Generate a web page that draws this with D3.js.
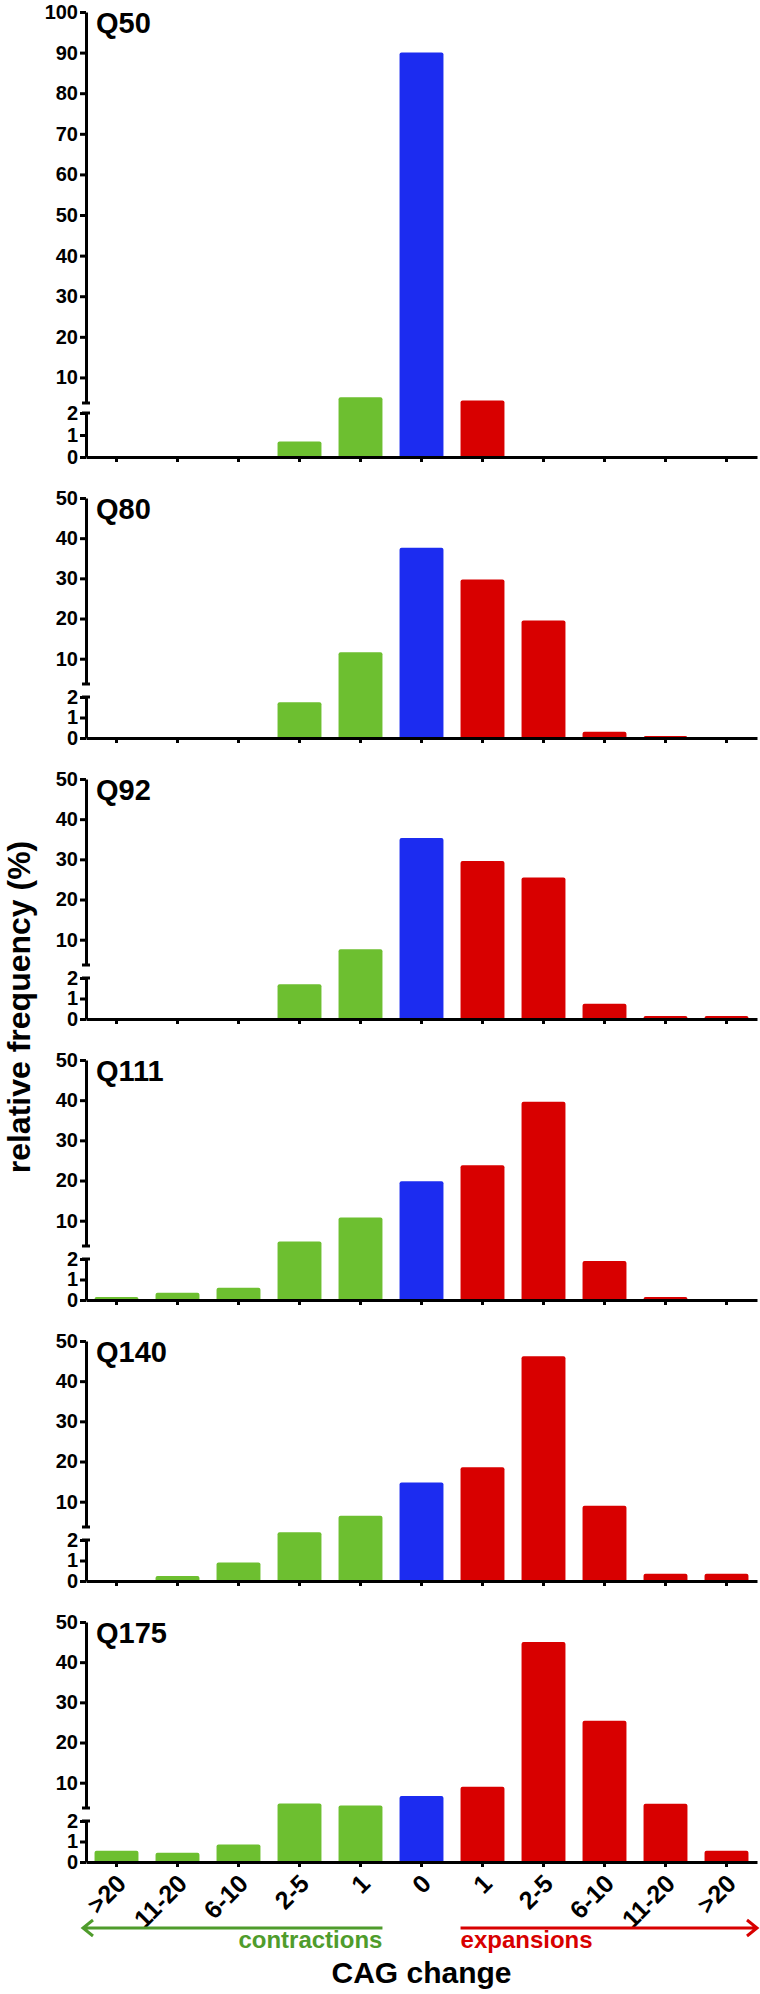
<!DOCTYPE html>
<html lang="en">

<head>
    <meta charset="UTF-8">
    <title>CAG change</title>
    <script src="https://d3js.org/d3.v7.min.js"></script>
    <style>
        body {
            margin: 0;
            background: #fff;
        }

        svg text {
            font-family: "Liberation Sans", Arial, sans-serif;
            font-weight: bold;
            fill: #000;
        }

        .axis path,
        .axis line {
            stroke: #000;
            stroke-width: 3px;
        }

        .axis text {
            font-size: 20px;
        }
    </style>
</head>

<body>
    <svg width="760" height="1994"></svg>
</body>

</html>
<script>
    // x categories, left half = contractions, right half = expansions
    var categories = [">20", "11-20", "6-10", "2-5", "1", "0", "1", "2-5", "6-10", "11-20", ">20"];
    var kind = ["c", "c", "c", "c", "c", "n", "e", "e", "e", "e", "e"];

    var panels = ["Q50", "Q80", "Q92", "Q111", "Q140", "Q175"];
    var q50 = [0, 0, 0, 0.7, 5.1, 90, 4.3, 0, 0, 0, 0];
    var q80 = [0, 0, 0, 1.75, 11.6, 37.6, 29.7, 19.5, 0.3, 0.1, 0];
    var q92 = [0, 0, 0, 1.7, 7.6, 35.3, 29.6, 25.5, 0.75, 0.15, 0.15];
    var q111 = [0.15, 0.35, 0.6, 4.8, 10.8, 19.8, 23.8, 39.6, 1.9, 0.15, 0];
    var q140 = [0, 0.25, 0.9, 3.0, 6.5, 14.8, 18.6, 46.2, 9.0, 0.35, 0.35];
    var q175 = [0.55, 0.45, 0.85, 4.8, 4.3, 6.7, 9.0, 45.0, 25.4, 4.75, 0.55];
    var values = [q50, q80, q92, q111, q140, q175];

    var yMax = [100, 50, 50, 50, 50, 50];
    var ticks100 = [10, 20, 30, 40, 50, 60, 70, 80, 90, 100];
    var ticks50 = [10, 20, 30, 40, 50];
    var lowerTicks = [0, 1, 2];

    var colors = { c: "#6dbf30", n: "#1c2cf0", e: "#d80000" };
    var green = "#4f9c2c", red = "#d80000";

    var svg = d3.select("svg");
    var x0 = 86, x1 = 757;
    var brk = 3.7; // axis break: lower segment 0-2, upper segment starts here

    var x = d3.scaleBand()
        .domain(d3.range(categories.length))
        .range([x0, x1])
        .paddingInner(0.28)
        .paddingOuter(0.14);

    panels.forEach(function (name, p) {
        var zero = 457 + 281 * p;
        var top = p == 0 ? 12 : zero - 240;
        var lowH = p == 0 ? 44 : 41;
        var gap = p == 0 ? 10 : 13;

        // piecewise scale across the broken axis
        var y = d3.scaleLinear()
            .domain([0, 2, brk, yMax[p]])
            .range([zero, zero - lowH, zero - lowH - gap, top]);
        var yUp = d3.scaleLinear().domain([brk, yMax[p]]).range([y(brk), top]);
        var yLow = d3.scaleLinear().domain([0, 2]).range([zero, y(2)]);

        var g = svg.append("g");

        var bars = values[p]
            .map(function (v, i) { return { v: v, i: i }; })
            .filter(function (d) { return d.v > 0; });

        g.selectAll(".bar")
            .data(bars)
            .enter()
            .append("rect")
            .attr("class", "bar")
            .attr("x", function (d) { return x(d.i); })
            .attr("width", x.bandwidth())
            .attr("y", function (d) { return y(d.v); })
            .attr("height", function (d) { return zero - y(d.v) + 2; })
            .attr("rx", 2)
            .attr("fill", function (d) { return colors[kind[d.i]]; });

        g.append("g")
            .attr("class", "axis")
            .attr("transform", "translate(" + x0 + ",0)")
            .call(d3.axisLeft(yUp).tickValues(p == 0 ? ticks100 : ticks50)
                .tickFormat(d3.format("d")).tickSizeInner(6).tickSizeOuter(0).tickPadding(2));

        g.append("g")
            .attr("class", "axis")
            .attr("transform", "translate(" + x0 + ",0)")
            .call(d3.axisLeft(yLow).tickValues(lowerTicks)
                .tickFormat(d3.format("d")).tickSizeInner(6).tickSizeOuter(0).tickPadding(2));

        // little caps at the break
        [y(brk), y(2)].forEach(function (yy) {
            g.append("line")
                .attr("x1", x0 - 4).attr("x2", x0 + 4)
                .attr("y1", yy).attr("y2", yy)
                .attr("stroke", "#000").attr("stroke-width", 3);
        });

        var xAxis = g.append("g")
            .attr("class", "axis")
            .attr("transform", "translate(0," + zero + ")")
            .call(d3.axisBottom(x).tickSizeInner(5).tickSizeOuter(0)
                .tickFormat(function (i) { return p == panels.length - 1 ? categories[i] : ""; }));

        if (p == panels.length - 1) {
            xAxis.selectAll("text")
                .attr("x", 0)
                .attr("y", 0)
                .attr("dy", "0.35em")
                .attr("text-anchor", "end")
                .attr("transform", "translate(5,17) rotate(-45)")
                .style("font-size", "25px");
        }

        g.append("text")
            .attr("x", 96)
            .attr("y", top + 21)
            .style("font-size", "29px")
            .text(name);
    });

    // contraction / expansion arrows
    var lastZero = 457 + 281 * (panels.length - 1);
    var arrowY = lastZero + 66;
    var cEnd = x(4) + x.bandwidth(), eStart = x(6);

    svg.append("path")
        .attr("d", "M" + (x0 + 7) + "," + (arrowY - 8) + "L" + (x0 - 3) + "," + arrowY + "L" + (x0 + 7) + "," + (arrowY + 8) +
            "M" + (x0 - 3) + "," + arrowY + "H" + cEnd)
        .attr("fill", "none").attr("stroke", green).attr("stroke-width", 3);

    svg.append("path")
        .attr("d", "M" + eStart + "," + arrowY + "H" + x1 +
            "M" + (x1 - 10) + "," + (arrowY - 8) + "L" + x1 + "," + arrowY + "L" + (x1 - 10) + "," + (arrowY + 8))
        .attr("fill", "none").attr("stroke", red).attr("stroke-width", 3);

    svg.append("text")
        .attr("x", cEnd)
        .attr("y", arrowY + 20)
        .attr("text-anchor", "end")
        .style("font-size", "24px")
        .style("fill", green)
        .text("contractions");

    svg.append("text")
        .attr("x", eStart)
        .attr("y", arrowY + 20)
        .style("font-size", "24px")
        .style("fill", red)
        .text("expansions");

    svg.append("text")
        .attr("x", (x0 + x1) / 2)
        .attr("y", 1983)
        .attr("text-anchor", "middle")
        .style("font-size", "30px")
        .text("CAG change");

    svg.append("text")
        .attr("transform", "translate(30,1007) rotate(-90)")
        .attr("text-anchor", "middle")
        .style("font-size", "32px")
        .text("relative frequency (%)");
</script>
